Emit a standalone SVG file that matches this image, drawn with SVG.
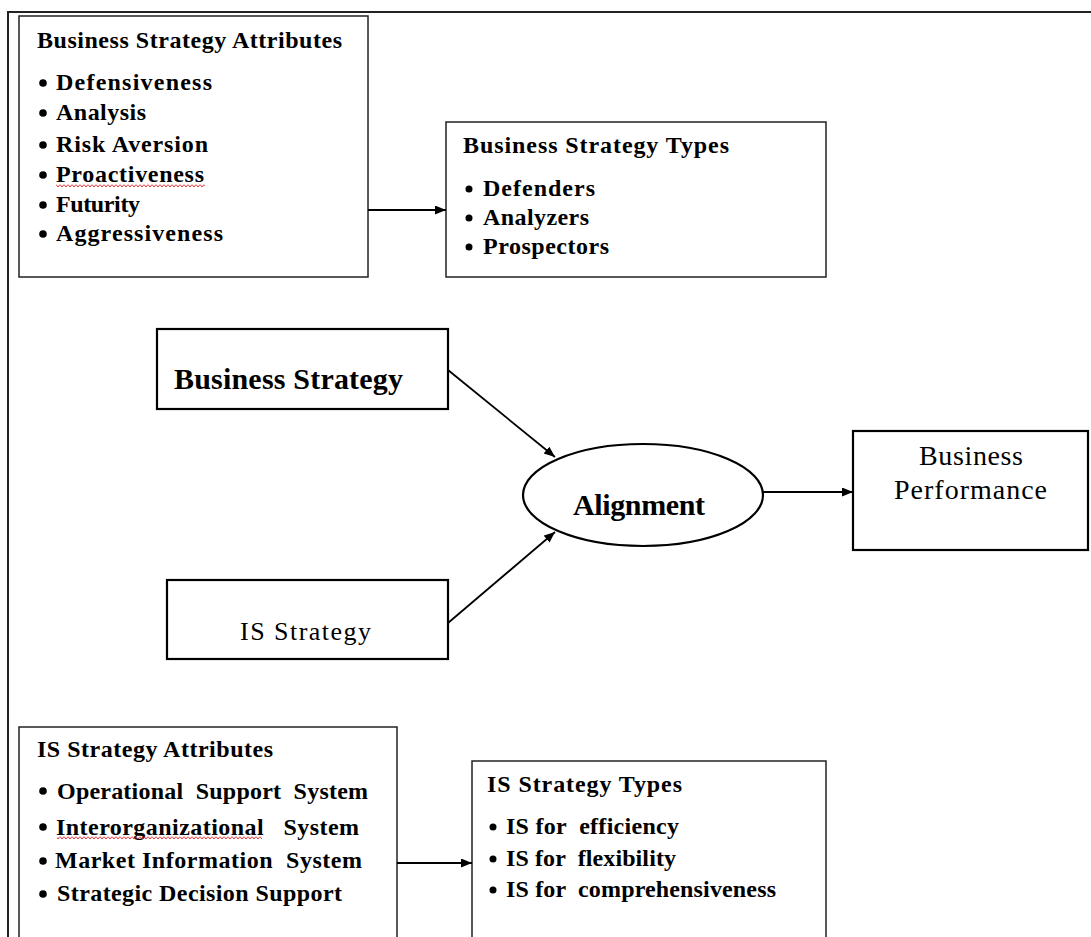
<svg xmlns="http://www.w3.org/2000/svg" width="1091" height="937" viewBox="0 0 1091 937">
<style>
  .box { fill: #fff; stroke: #222; stroke-width: 1.5; }
  .main { fill: #fff; stroke: #000; stroke-width: 2.2; }
  .t { font-family: "Liberation Serif", "Times New Roman", serif; fill: #000; white-space: pre; }
  .title { font-size: 24px; font-weight: bold; }
  .item { font-size: 24px; font-weight: bold; }
  .big { font-size: 30px; font-weight: bold; }
  .reg { font-size: 28px; font-weight: normal; }
  .reg2 { font-size: 26px; font-weight: normal; }
  .bul { fill: #000; }
  .conn { stroke: #000; stroke-width: 1.8; fill: none; marker-end: url(#arr); }
  .squig { fill: url(#wave); }
</style>
<defs>
  <marker id="arr" markerUnits="userSpaceOnUse" markerWidth="12" markerHeight="10" refX="11" refY="4.5" orient="auto">
    <path d="M0,0 L11,4.5 L0,9 z" fill="#000"/>
  </marker>
  <pattern id="wave" patternUnits="userSpaceOnUse" width="4" height="4">
    <polyline points="0,0.5 2,3 4,0.5" fill="none" stroke="#e02020" stroke-width="0.9"/>
  </pattern>
</defs>

<path id="frame" d="M8,937 V12 H1091" fill="none" stroke="#222" stroke-width="2"/>

<g id="bs-attributes">
  <rect class="box" x="19" y="16" width="349" height="261"/>
  <text class="t title" x="37" y="48" textLength="305" lengthAdjust="spacing">Business Strategy Attributes</text>
  <circle class="bul" cx="43" cy="83" r="3.8"/>
  <text class="t item" x="56" y="90" textLength="156" lengthAdjust="spacing">Defensiveness</text>
  <circle class="bul" cx="43" cy="113" r="3.8"/>
  <text class="t item" x="56" y="120" textLength="90" lengthAdjust="spacing">Analysis</text>
  <circle class="bul" cx="43" cy="145" r="3.8"/>
  <text class="t item" x="56" y="152" textLength="152" lengthAdjust="spacing">Risk Aversion</text>
  <circle class="bul" cx="43" cy="175" r="3.8"/>
  <text class="t item" x="56" y="182" textLength="148" lengthAdjust="spacing">Proactiveness</text>
  <rect class="squig" x="56" y="183" width="149" height="4"/>
  <circle class="bul" cx="43" cy="205" r="3.8"/>
  <text class="t item" x="56" y="212" textLength="84" lengthAdjust="spacing">Futurity</text>
  <circle class="bul" cx="43" cy="234" r="3.8"/>
  <text class="t item" x="56" y="241" textLength="167" lengthAdjust="spacing">Aggressiveness</text>
</g>

<g id="bs-types">
  <rect class="box" x="446" y="122" width="380" height="155"/>
  <text class="t title" x="463" y="153" textLength="266" lengthAdjust="spacing">Business Strategy Types</text>
  <circle class="bul" cx="469" cy="189" r="3.5"/>
  <text class="t item" x="483" y="196" textLength="112" lengthAdjust="spacing">Defenders</text>
  <circle class="bul" cx="469" cy="218" r="3.5"/>
  <text class="t item" x="483" y="225" textLength="106" lengthAdjust="spacing">Analyzers</text>
  <circle class="bul" cx="469" cy="247" r="3.5"/>
  <text class="t item" x="483" y="254" textLength="126" lengthAdjust="spacing">Prospectors</text>
</g>

<g id="business-strategy">
  <rect class="main" x="157" y="329" width="291" height="80"/>
  <text class="t big" x="174" y="389" textLength="229" lengthAdjust="spacing">Business Strategy</text>
</g>

<g id="is-strategy">
  <rect class="main" x="167" y="580" width="281" height="79"/>
  <text class="t reg2" x="240" y="640" textLength="131" lengthAdjust="spacing">IS Strategy</text>
</g>

<g id="alignment">
  <ellipse class="main" cx="643" cy="495" rx="120" ry="51"/>
  <text class="t big" x="573" y="515" textLength="132" lengthAdjust="spacing">Alignment</text>
</g>

<g id="business-performance">
  <rect class="main" x="853" y="431" width="235" height="119"/>
  <text class="t reg" x="919" y="465" textLength="104" lengthAdjust="spacing">Business</text>
  <text class="t reg" x="894" y="499" textLength="153" lengthAdjust="spacing">Performance</text>
</g>

<g id="is-attributes">
  <rect class="box" x="19" y="727" width="378" height="220"/>
  <text class="t title" x="37" y="757" textLength="236" lengthAdjust="spacing">IS Strategy Attributes</text>
  <circle class="bul" cx="43" cy="791" r="3.8"/>
  <text class="t item" x="57" y="799" textLength="311" lengthAdjust="spacing">Operational  Support  System</text>
  <circle class="bul" cx="43" cy="827" r="3.8"/>
  <text class="t item" x="56" y="835" textLength="303" lengthAdjust="spacing">Interorganizational   System</text>
  <rect class="squig" x="57" y="836" width="205" height="4"/>
  <circle class="bul" cx="43" cy="861" r="3.8"/>
  <text class="t item" x="55" y="868" textLength="307" lengthAdjust="spacing">Market Information  System</text>
  <circle class="bul" cx="43" cy="894" r="3.8"/>
  <text class="t item" x="57" y="901" textLength="285" lengthAdjust="spacing">Strategic Decision Support</text>
</g>

<g id="is-types">
  <rect class="box" x="472" y="761" width="354" height="190"/>
  <text class="t title" x="487" y="792" textLength="195" lengthAdjust="spacing">IS Strategy Types</text>
  <circle class="bul" cx="493" cy="827" r="3.5"/>
  <text class="t item" x="506" y="834" textLength="173" lengthAdjust="spacing">IS for  efficiency</text>
  <circle class="bul" cx="493" cy="859" r="3.5"/>
  <text class="t item" x="506" y="866" textLength="170" lengthAdjust="spacing">IS for  flexibility</text>
  <circle class="bul" cx="493" cy="890" r="3.5"/>
  <text class="t item" x="506" y="897" textLength="270" lengthAdjust="spacing">IS for  comprehensiveness</text>
</g>

<g id="connectors">
  <line class="conn" x1="368" y1="210" x2="446" y2="210"/>
  <line class="conn" x1="448" y1="370" x2="555" y2="457"/>
  <line class="conn" x1="448" y1="623" x2="555" y2="532"/>
  <line class="conn" x1="763" y1="492" x2="853" y2="492"/>
  <line class="conn" x1="397" y1="863" x2="472" y2="863"/>
</g>
</svg>
